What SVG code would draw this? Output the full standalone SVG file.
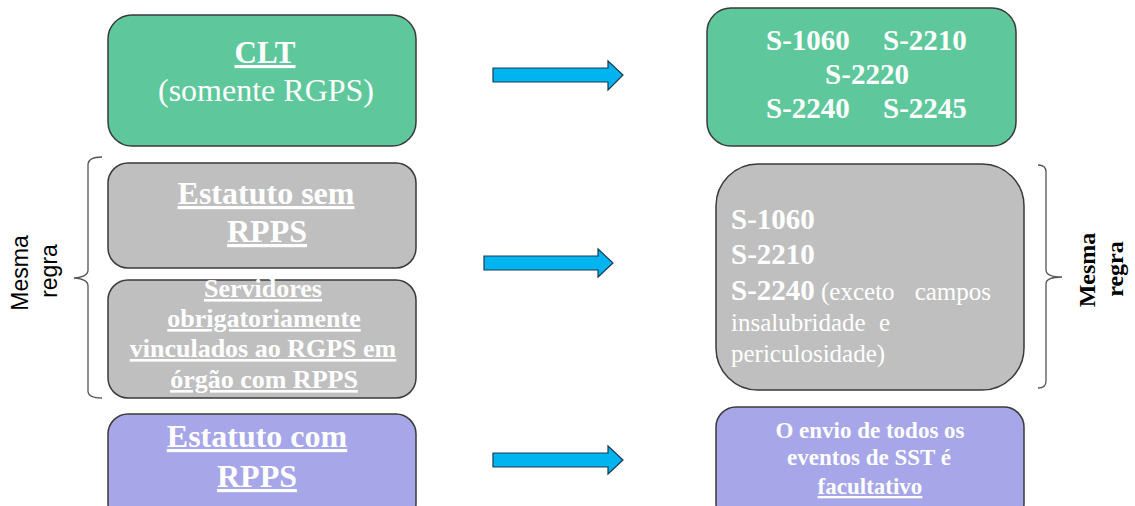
<svg xmlns="http://www.w3.org/2000/svg" width="1135" height="506" viewBox="0 0 1135 506">
<style>
.box{stroke:#3a3a3a;stroke-width:1.5}
.green{fill:#5ec89c}
.gray{fill:#bfbfbf}
.purple{fill:#a6a6e8}
.t{font-family:"Liberation Serif","Times New Roman",serif;fill:#ffffff}
.b{font-weight:bold}
.u{text-decoration:underline}
.c{text-anchor:middle}
.arrow{fill:#00b4f0;stroke:#1b3a55;stroke-width:1.2}
.brace{fill:none;stroke:#555;stroke-width:1.3}
.lbl{fill:#000;text-anchor:middle}
</style>
<rect width="1135" height="506" fill="#ffffff"/>
<g id="clt">
<rect class="box green" x="108" y="15" width="308" height="131" rx="24"/>
<text class="t b u c" x="265" y="63" font-size="31">CLT</text>
<text class="t c" x="266" y="101" font-size="32">(somente RGPS)</text>
</g>
<g id="clt-events">
<rect class="box green" x="707" y="8" width="309" height="138" rx="24"/>
<text class="t b" x="766" y="50" font-size="29">S-1060</text>
<text class="t b" x="883" y="50" font-size="29">S-2210</text>
<text class="t b c" x="867" y="84" font-size="29">S-2220</text>
<text class="t b" x="766" y="118" font-size="29">S-2240</text>
<text class="t b" x="883" y="118" font-size="29">S-2245</text>
</g>
<g id="estatuto-sem">
<rect class="box gray" x="108" y="163" width="308" height="105" rx="20"/>
<text class="t b u c" x="266" y="204" font-size="32">Estatuto sem</text>
<text class="t b u c" x="267" y="242" font-size="32">RPPS</text>
</g>
<g id="servidores">
<rect class="box gray" x="108" y="280" width="308" height="118" rx="20"/>
<text class="t b u c" x="263" y="297" font-size="26">Servidores</text>
<text class="t b u c" x="264" y="327" font-size="26">obrigatoriamente</text>
<text class="t b u c" x="263" y="357" font-size="26">vinculados ao RGPS em</text>
<text class="t b u c" x="264" y="388" font-size="26">órgão com RPPS</text>
</g>
<g id="estatuto-com">
<rect class="box purple" x="108" y="414" width="308" height="110" rx="20"/>
<text class="t b u c" x="257" y="447" font-size="32">Estatuto com</text>
<text class="t b u c" x="257" y="487" font-size="32">RPPS</text>
</g>
<g id="gray-events">
<rect class="box gray" x="716" y="164" width="308" height="226" rx="42"/>
<text class="t b" x="731" y="229" font-size="29">S-1060</text>
<text class="t b" x="731" y="264" font-size="29">S-2210</text>
<text class="t" x="731" y="300" font-size="25"><tspan class="b" font-size="29">S-2240</tspan> (exceto</text>
<text class="t" x="991" y="300" font-size="25" text-anchor="end">campos</text>
<text class="t" x="731" y="331" font-size="25">insalubridade</text>
<text class="t" x="879" y="331" font-size="25">e</text>
<text class="t" x="731" y="362" font-size="25">periculosidade)</text>
</g>
<g id="facultativo">
<rect class="box purple" x="716" y="407" width="308" height="117" rx="20"/>
<text class="t b c" x="870" y="438" font-size="23">O envio de todos os</text>
<text class="t b c" x="869" y="465" font-size="23">eventos de SST  é</text>
<text class="t b u c" x="870" y="494" font-size="23">facultativo</text>
</g>
<g id="connectors">
<polygon class="arrow" points="493,68 608,68 608,61 623,75 608,90 608,82 493,82"/>
<polygon class="arrow" points="484,256 598,256 598,249 613,263 598,277 598,270 484,270"/>
<polygon class="arrow" points="493,453 608,453 608,446 623,460 608,474 608,467 493,467"/>
<path class="brace" d="M102,157 Q88,157 88,165 L88,270 Q88,277 74,278 Q88,279 88,286 L88,391 Q88,398 102,398"/>
<path class="brace" d="M1038,165 Q1046,165 1046,172 L1046,270 Q1046,277 1062,277 Q1046,277 1046,284 L1046,381 Q1046,388 1038,388"/>
</g>
<g id="label-left" font-family="Liberation Sans, Arial, sans-serif">
<text class="lbl" transform="translate(28,273) rotate(-90)" font-size="23">Mesma</text>
<text class="lbl" transform="translate(57,271) rotate(-90)" font-size="23">regra</text>
</g>
<g id="label-right" font-family="Liberation Serif, Times New Roman, serif" font-weight="bold">
<text class="lbl" transform="translate(1095,270) rotate(-90)" font-size="24">Mesma</text>
<text class="lbl" transform="translate(1123,269) rotate(-90)" font-size="24">regra</text>
</g>
</svg>
